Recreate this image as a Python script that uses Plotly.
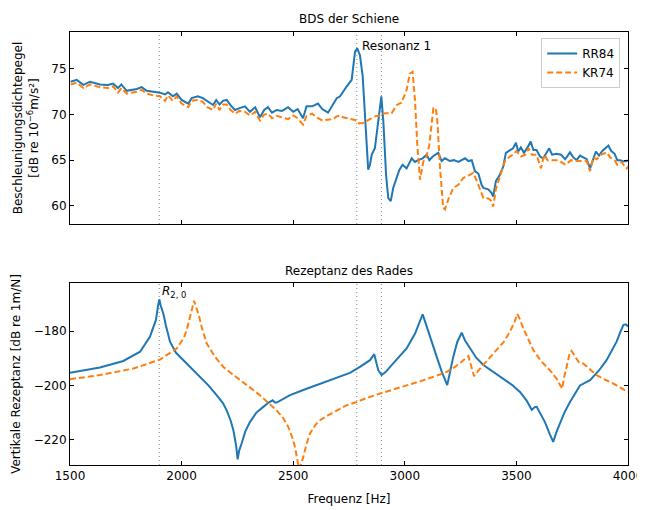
import plotly.graph_objects as go

# ---------------- data ----------------
freq_top_rr84 = [1503, 1530, 1560, 1590, 1634, 1670, 1693, 1715, 1730, 1754, 1799, 1821, 1844, 1873, 1903, 1926,
                 1939, 1961, 1978, 2000, 2030, 2045, 2073, 2095, 2115, 2141, 2155, 2170, 2185, 2202, 2220, 2239,
                 2260, 2284, 2306, 2330, 2351, 2370, 2387, 2405, 2426, 2450, 2477, 2500, 2520, 2544, 2560, 2585,
                 2611, 2630, 2656, 2678, 2695, 2710, 2723, 2740, 2762, 2769, 2777, 2787, 2799, 2811, 2822, 2829,
                 2836, 2844, 2852, 2866, 2877, 2889, 2895, 2904, 2916, 2926, 2937, 2948, 2964, 2975, 2990, 3008,
                 3031, 3045, 3060, 3080, 3098, 3110, 3125, 3150, 3165, 3180, 3202, 3220, 3240, 3255, 3270, 3285,
                 3300, 3314, 3330, 3344, 3352, 3374, 3389, 3396, 3408, 3426, 3441, 3453, 3471, 3485, 3498, 3508,
                 3520, 3534, 3550, 3564, 3576, 3590, 3606, 3620, 3635, 3647, 3660, 3680, 3700, 3718, 3730, 3740,
                 3755, 3770, 3785, 3800, 3815, 3830, 3845, 3856, 3870, 3885, 3912, 3925, 3940, 3952, 3965, 3979,
                 3994, 4000]
bds_rr84 = [73.6, 73.8, 73.25, 73.6, 73.3, 73.25, 73.4, 72.9, 73.3, 72.6, 72.8, 73.0, 72.6, 72.5, 72.4, 72.2,
            72.45, 72.0, 72.3, 71.6, 71.2, 71.8, 72.0, 71.8, 71.5, 71.05, 71.6, 71.1, 71.5, 71.6, 71.0, 70.5,
            70.7, 70.9, 70.3, 70.8, 69.7, 70.5, 70.8, 70.2, 70.5, 70.4, 70.8, 70.3, 70.6, 69.6, 70.9, 70.9,
            71.2, 70.6, 70.2, 71.05, 71.8, 72.0, 72.5, 73.1, 73.8, 75.1, 76.9, 77.26, 76.5, 74.3, 69.6, 66.7,
            63.95, 64.5, 65.6, 66.3, 68.5, 71.4, 72.0, 69.2, 63.4, 60.85, 60.5, 61.95, 63.2, 63.9, 64.5, 64.1,
            65.2, 64.8, 65.0, 65.2, 65.6, 65.0, 65.4, 65.8, 64.9, 65.2, 64.9, 65.0, 64.8, 65.0, 65.2, 64.9,
            65.0, 63.8, 63.5, 62.3, 61.95, 61.8, 61.4, 61.0, 62.7, 63.4, 64.3, 65.8, 66.1, 66.3, 66.9, 65.95,
            66.4, 65.8, 66.4, 67.05, 66.1, 66.1, 65.4, 65.2, 65.8, 66.3, 65.6, 65.7, 65.6, 65.1, 65.5, 65.85,
            65.3, 65.0, 65.5, 65.3, 65.1, 64.1, 65.3, 65.95, 65.5, 66.0, 66.6, 66.0, 65.7, 65.0, 65.0, 64.85,
            64.9, 65.0]

freq_top_kr74 = [1503, 1530, 1560, 1590, 1634, 1670, 1693, 1715, 1730, 1754, 1799, 1821, 1844, 1873, 1903, 1926,
                 1939, 1961, 1978, 2000, 2030, 2045, 2073, 2095, 2115, 2141, 2155, 2170, 2185, 2202, 2220, 2239,
                 2260, 2284, 2306, 2330, 2351, 2370, 2387, 2405, 2426, 2450, 2477, 2500, 2520, 2544, 2560, 2585,
                 2611, 2630, 2656, 2678, 2695, 2710, 2723, 2745, 2777, 2790, 2811, 2830, 2844, 2866, 2890, 2911,
                 2941, 2964, 2985, 3008, 3023, 3035, 3046, 3056, 3068, 3083, 3095, 3110, 3128, 3139, 3146, 3158,
                 3172, 3180, 3195, 3217, 3240, 3262, 3285, 3307, 3323, 3335, 3352, 3374, 3389, 3396, 3408, 3426,
                 3448, 3470, 3485, 3500, 3521, 3540, 3555, 3570, 3590, 3610, 3625, 3640, 3665, 3685, 3700, 3720,
                 3745, 3770, 3800, 3815, 3830, 3845, 3860, 3880, 3905, 3920, 3940, 3952, 3970, 3994, 4000]
bds_kr74 = [73.3, 73.5, 72.9, 73.3, 73.0, 72.9, 73.1, 72.4, 72.9, 72.3, 72.5, 72.7, 72.3, 72.1, 72.0, 71.5,
            72.1, 71.5, 72.0, 71.2, 70.8, 71.5, 71.6, 71.4, 70.8, 70.5, 71.2, 70.5, 71.1, 71.1, 70.5, 70.1,
            70.4, 70.3, 69.9, 70.3, 69.35, 70.0, 70.1, 69.6, 69.85, 69.7, 69.5, 69.9, 69.6, 68.9, 69.85, 70.1,
            69.6, 69.35, 69.4, 69.5, 69.8, 69.9, 69.7, 69.6, 69.4, 69.05, 69.05, 69.3, 69.5, 69.8, 69.9, 70.15,
            70.15, 71.05, 71.3, 72.7, 74.5, 74.7, 71.4, 66.7, 62.85, 64.85, 65.2, 66.7, 70.7, 70.7, 69.2, 64.1,
            59.8, 59.6, 60.7, 61.95, 62.3, 63.05, 63.3, 63.6, 62.7, 61.9, 60.85, 60.8, 60.5, 59.9, 61.8, 63.2,
            64.85, 65.4, 65.6, 66.0, 65.4, 65.6, 66.3, 65.6, 65.6, 64.1, 65.6, 65.0, 65.0, 65.0, 64.8, 64.5,
            65.0, 64.9, 64.9, 64.9, 63.8, 65.3, 65.1, 65.6, 65.85, 65.3, 65.0, 64.5, 64.8, 64.1, 64.3]

freq_bot_rr84 = [1500, 1634, 1739, 1814, 1858, 1875, 1885, 1895, 1900, 1906, 1918, 1930, 1948, 1975, 2008, 2045,
                 2082, 2120, 2157, 2185, 2202, 2220, 2232, 2245, 2251, 2258, 2269, 2285, 2306, 2335, 2366, 2390,
                 2408, 2418, 2426, 2460, 2486, 2545, 2605, 2665, 2720, 2754, 2799, 2844, 2863, 2872, 2881, 2896,
                 2915, 2934, 2970, 3008, 3046, 3068, 3080, 3088, 3098, 3120, 3143, 3165, 3190, 3203, 3217, 3235,
                 3255, 3270, 3292, 3320, 3352, 3400, 3441, 3480, 3516, 3545, 3569, 3582, 3591, 3610, 3628, 3650,
                 3665, 3680, 3695, 3715, 3740, 3785, 3830, 3870, 3904, 3930, 3949, 3965, 3979, 3990, 4000]
rez_rr84 = [-195.3, -193.4, -191.0, -187.6, -182.1, -178.5, -175.9, -170.5, -168.3, -170.5, -173.5, -178.0,
            -183.9, -188.0, -190.7, -193.8, -196.9, -200.0, -203.6, -206.5, -209.2, -213.0, -216.5, -222.5,
            -227.2, -224.0, -221.4, -217.0, -213.5, -210.0, -207.9, -206.3, -205.5, -206.3, -206.3, -204.8,
            -203.6, -201.7, -199.9, -198.1, -196.3, -195.4, -193.2, -190.7, -188.5, -191.5, -194.4, -196.2,
            -195.0, -193.2, -190.0, -186.4, -180.9, -176.5, -173.8, -175.8, -178.4, -184.0, -189.5, -194.8,
            -199.9, -195.0, -189.5, -184.0, -180.6, -183.5, -186.4, -189.8, -192.5, -195.2, -197.5, -199.8,
            -202.4, -205.5, -209.0, -208.0, -207.9, -210.5, -213.5, -218.0, -220.8, -217.0, -214.1, -210.0,
            -206.1, -200.0, -198.1, -194.5, -190.7, -187.0, -183.9, -180.5, -177.8, -177.5, -178.3]

freq_bot_kr74 = [1500, 1634, 1784, 1903, 1978, 2010, 2023, 2040, 2045, 2056, 2066, 2075, 2090, 2112, 2150, 2187,
                 2230, 2276, 2310, 2351, 2390, 2426, 2455, 2478, 2495, 2508, 2520, 2527, 2535, 2545, 2560, 2575,
                 2600, 2620, 2660, 2695, 2740, 2784, 2830, 2889, 2950, 3008, 3083, 3140, 3188, 3225, 3255, 3285,
                 3298, 3310, 3330, 3352, 3385, 3412, 3445, 3471, 3490, 3504, 3515, 3531, 3555, 3576, 3610, 3650,
                 3680, 3700, 3705, 3714, 3725, 3738, 3747, 3760, 3780, 3799, 3830, 3859, 3900, 3934, 3970, 4000]
rez_kr74 = [-197.7, -196.2, -193.8, -190.5, -186.4, -182.5, -179.6, -174.5, -172.3, -168.8, -171.5, -173.5,
            -178.5, -184.5, -189.5, -193.2, -196.0, -198.7, -201.0, -203.6, -206.5, -209.2, -212.0, -215.3,
            -219.0, -222.7, -228.0, -230.7, -229.0, -226.4, -221.5, -217.7, -214.5, -212.8, -210.8, -209.2,
            -207.3, -206.1, -204.6, -203.0, -201.5, -199.9, -198.1, -196.5, -195.0, -193.2, -191.3, -189.2,
            -193.0, -196.6, -194.5, -192.5, -189.5, -187.0, -183.8, -180.2, -177.0, -173.7, -175.5, -179.0,
            -183.5, -187.0, -191.0, -194.4, -197.5, -200.8, -201.2, -197.0, -193.2, -188.5, -187.3, -189.0,
            -191.5, -191.9, -194.0, -196.2, -198.0, -199.3, -201.0, -202.4]

marker_freqs = [1900, 2785, 2895]
x_ticks = [1500, 2000, 2500, 3000, 3500, 4000]
y_ticks_top = [60, 65, 70, 75]
y_ticks_bot = [-220, -200, -180]

BLUE = "#1f77b4"
ORANGE = "#ff7f0e"
FONT = "DejaVu Sans"

fig = go.Figure()
fig.add_trace(go.Scatter(x=freq_top_rr84, y=bds_rr84, mode="lines", name="RR84",
                         line=dict(color=BLUE, width=2), xaxis="x", yaxis="y"))
fig.add_trace(go.Scatter(x=freq_top_kr74, y=bds_kr74, mode="lines", name="KR74",
                         line=dict(color=ORANGE, width=2, dash="6px,3px"), xaxis="x", yaxis="y"))
fig.add_trace(go.Scatter(x=freq_bot_rr84, y=rez_rr84, mode="lines", name="RR84", showlegend=False,
                         line=dict(color=BLUE, width=2), xaxis="x2", yaxis="y2"))
fig.add_trace(go.Scatter(x=freq_bot_kr74, y=rez_kr74, mode="lines", name="KR74", showlegend=False,
                         line=dict(color=ORANGE, width=2, dash="6px,3px"), xaxis="x2", yaxis="y2"))

shapes = []
for xr, yr in (("x", "y"), ("x2", "y2")):
    for f in marker_freqs:
        shapes.append(dict(type="line", xref=xr, yref=yr + " domain", x0=f, x1=f, y0=0, y1=1,
                           line=dict(color="#888888", width=1, dash="1px,3px"), layer="below"))

axis_common = dict(showgrid=False, zeroline=False, showline=True, linecolor="black", linewidth=1,
                   mirror="ticks", ticks="inside", ticklen=4, tickwidth=1, tickcolor="black",
                   automargin=False,
                   tickfont=dict(family=FONT, size=12, color="black"))

# the page body adds an 8px offset; the figure is sized so that it fills the 645x510 window
fig.update_layout(
    width=637, height=502,
    margin=dict(l=62, r=17, t=24, b=45, autoexpand=False),
    paper_bgcolor="white", plot_bgcolor="white",
    font=dict(family=FONT, size=12, color="black"),
    xaxis=dict(domain=[0, 1], range=[1500, 4000], tickvals=x_ticks, showticklabels=False,
               anchor="y", **axis_common),
    yaxis=dict(domain=[0.5566, 1], range=[58.0, 79.05], tickvals=y_ticks_top, anchor="x",
               title=dict(text="Beschleunigungsdichtepegel<br>[dB re 10<sup>−6</sup>m/s²]",
                          font=dict(family=FONT, size=12), standoff=10),
               **axis_common),
    xaxis2=dict(domain=[0, 1], range=[1500, 4000], tickvals=x_ticks, anchor="y2",
                title=dict(text="Frequenz [Hz]", font=dict(family=FONT, size=12), standoff=12),
                **axis_common),
    yaxis2=dict(domain=[0, 0.4203], range=[-229.3, -162.3], tickvals=y_ticks_bot, anchor="x2",
                title=dict(text="Vertikale Rezeptanz [dB re 1m/N]", font=dict(family=FONT, size=12), standoff=10),
                **axis_common),
    shapes=shapes,
    legend=dict(x=0.986, y=0.986, xanchor="right", yanchor="top", bgcolor="rgba(255,255,255,0.8)",
                bordercolor="#cccccc", borderwidth=1, font=dict(family=FONT, size=12),
                tracegroupgap=2),
    showlegend=True,
    annotations=[
        dict(text="BDS der Schiene", xref="x domain", yref="paper", x=0.5, y=1, yshift=4,
             xanchor="center", yanchor="bottom", showarrow=False, font=dict(family=FONT, size=12)),
        dict(text="Rezeptanz des Rades", xref="x2 domain", yref="paper", x=0.5, y=0.4203, yshift=3,
             xanchor="center", yanchor="bottom", showarrow=False, font=dict(family=FONT, size=12)),
        dict(text="Resonanz 1", xref="x", yref="y", x=2800, y=77.5, xanchor="left", yanchor="middle",
             showarrow=False, font=dict(family=FONT, size=12)),
        dict(text="<i>R</i><sub>2, 0</sub>", xref="x2", yref="y2", x=1903, y=-165.6, xanchor="left",
             yanchor="middle", showarrow=False, font=dict(family=FONT, size=12)),
    ],
)

fig.write_html("out.html")
